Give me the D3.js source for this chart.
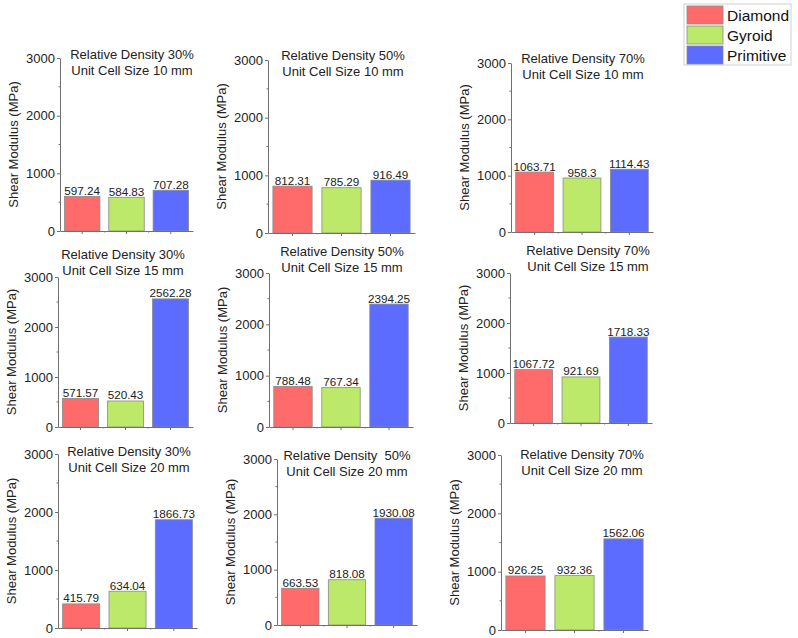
<!DOCTYPE html>
<html>
<head>
<meta charset="utf-8">
<script src="https://cdn.jsdelivr.net/npm/d3@7"></script>
<style>
  body { margin: 0; background: #fff; }
  svg { display: block; font-family: "Liberation Sans", Arial, sans-serif; }
</style>
</head>
<body>
<svg id="chart" width="798" height="638"></svg>
<script>
// data: rows = unit cell size, cols = relative density
var densityLabels = ["30%", "50%", "70%"];
var cellSizeLabels = ["10 mm", "15 mm", "20 mm"];
var structures = ["Diamond", "Gyroid", "Primitive"];
var diamondValues = [
  [597.24, 812.31, 1063.71],
  [571.57, 788.48, 1067.72],
  [415.79, 663.53, 926.25]
];
var gyroidValues = [
  [584.83, 785.29, 958.3],
  [520.43, 767.34, 921.69],
  [634.04, 818.08, 932.36]
];
var primitiveValues = [
  [707.28, 916.49, 1114.43],
  [2562.28, 2394.25, 1718.33],
  [1866.73, 1930.08, 1562.06]
];
var yTicks = [0, 1000, 2000, 3000];
var yMinorTicks = [500, 1500, 2500];
var yLabel = "Shear Modulus (MPa)";

var colors = ["#ff6b6b", "#bce96a", "#5b6cff"];

// panel placement (axis box + title centre)
var layout = [
  [ {x0: 60, x1: 193, yT: 58, yB: 231, tx: 132, ty: 54},
    {x0: 268, x1: 415, yT: 60, yB: 233, tx: 343, ty: 55},
    {x0: 511, x1: 653, yT: 63, yB: 232, tx: 583, ty: 58} ],
  [ {x0: 58, x1: 193, yT: 277, yB: 427, tx: 123, ty: 254},
    {x0: 269, x1: 413, yT: 273, yB: 427, tx: 342, ty: 251},
    {x0: 510, x1: 652, yT: 273, yB: 423, tx: 588, ty: 250} ],
  [ {x0: 58, x1: 197, yT: 454, yB: 628, tx: 129, ty: 451},
    {x0: 277, x1: 417, yT: 459, yB: 625, tx: 347, ty: 455},
    {x0: 501, x1: 648, yT: 455, yB: 630, tx: 582, ty: 454} ]
];

var svg = d3.select("#chart");
var axisColor = "#707070";

function drawPanel(r, c) {
  var L = layout[r][c];
  var values = [diamondValues[r][c], gyroidValues[r][c], primitiveValues[r][c]];
  var g = svg.append("g");

  var x = d3.scaleBand()
    .domain(structures)
    .range([L.x0, L.x1])
    .paddingInner(0.2)
    .paddingOuter(0.1);
  var y = d3.scaleLinear().domain([0, 3000]).range([L.yB, L.yT]);

  // bars
  g.selectAll("rect.bar")
    .data(values)
    .enter()
    .append("rect")
    .attr("class", "bar")
    .attr("x", function (d, i) { return x(structures[i]); })
    .attr("width", x.bandwidth())
    .attr("y", function (d) { return y(d); })
    .attr("height", function (d) { return y(0) - y(d); })
    .attr("fill", function (d, i) { return colors[i]; })
    .attr("stroke", "#8a8a8a")
    .attr("stroke-width", 0.8);

  // value labels
  g.selectAll("text.val")
    .data(values)
    .enter()
    .append("text")
    .attr("class", "val")
    .attr("x", function (d, i) { return x(structures[i]) + x.bandwidth() / 2; })
    .attr("y", function (d) { return y(d) - 1.5; })
    .attr("text-anchor", "middle")
    .attr("font-size", "11.7px")
    .attr("fill", "#222")
    .text(function (d) { return String(d); });

  // y axis
  var yAxis = d3.axisLeft(y).tickValues(yTicks).tickFormat(d3.format("d"))
    .tickSize(3).tickPadding(2).tickSizeOuter(0);
  var ya = g.append("g").attr("transform", "translate(" + L.x0 + ",0)").call(yAxis);
  ya.select(".domain").attr("stroke", axisColor);
  ya.selectAll(".tick line").attr("stroke", axisColor);
  ya.selectAll(".tick text").attr("font-size", "13px").attr("fill", "#222")
    .attr("font-family", "Liberation Sans, Arial, sans-serif");
  g.selectAll("line.yminor")
    .data(yMinorTicks)
    .enter()
    .append("line")
    .attr("class", "yminor")
    .attr("x1", L.x0 - 1.5).attr("x2", L.x0)
    .attr("y1", function (d) { return y(d); })
    .attr("y2", function (d) { return y(d); })
    .attr("stroke", axisColor);

  // x axis
  var xAxis = d3.axisBottom(x).tickSize(3).tickSizeOuter(0).tickFormat("");
  var xa = g.append("g").attr("transform", "translate(0," + L.yB + ")").call(xAxis);
  xa.select(".domain").attr("stroke", axisColor);
  xa.selectAll(".tick line").attr("stroke", axisColor);
  var edges = structures.slice(1).map(function (s) { return x(s) - x.step() * x.paddingInner() / 2; });
  g.selectAll("line.xminor")
    .data(edges)
    .enter()
    .append("line")
    .attr("class", "xminor")
    .attr("x1", function (d) { return d; })
    .attr("x2", function (d) { return d; })
    .attr("y1", L.yB).attr("y2", L.yB + 1.5)
    .attr("stroke", axisColor);

  // y label
  g.append("text")
    .attr("transform", "translate(" + (L.x0 - 42) + "," + ((L.yT + L.yB) / 2) + ") rotate(-90)")
    .attr("text-anchor", "middle")
    .attr("font-size", "13px")
    .attr("fill", "#222")
    .text(yLabel);

  // title
  var densityText = (r === 2 && c === 1) ? "Relative Density  " : "Relative Density ";
  var title = g.append("text")
    .attr("text-anchor", "middle")
    .attr("font-size", "13px")
    .attr("fill", "#222")
    .style("white-space", "pre");
  title.append("tspan").attr("x", L.tx).attr("y", L.ty + 4.5)
    .text(densityText + densityLabels[c]);
  title.append("tspan").attr("x", L.tx).attr("y", L.ty + 20.5)
    .text("Unit Cell Size " + cellSizeLabels[r]);
}

for (var r = 0; r < 3; r++) {
  for (var c = 0; c < 3; c++) {
    drawPanel(r, c);
  }
}

// legend
var legend = svg.append("g");
legend.append("rect")
  .attr("x", 684).attr("y", 4).attr("width", 107).attr("height", 61)
  .attr("fill", "#fff").attr("stroke", "#d0d0d0");
var legendY = d3.scaleBand().domain(structures).range([6, 64]).paddingInner(0.1);
legend.selectAll("rect.sw")
  .data(structures)
  .enter()
  .append("rect")
  .attr("class", "sw")
  .attr("x", 687).attr("width", 36)
  .attr("y", function (d) { return legendY(d); })
  .attr("height", legendY.bandwidth())
  .attr("fill", function (d, i) { return colors[i]; })
  .attr("stroke", "#8a8a8a").attr("stroke-width", 0.8);
legend.selectAll("text.lg")
  .data(structures)
  .enter()
  .append("text")
  .attr("class", "lg")
  .attr("x", 727)
  .attr("y", function (d) { return legendY(d) + legendY.bandwidth() / 2 + 5.5; })
  .attr("font-size", "15.5px")
  .attr("fill", "#111")
  .text(function (d) { return d; });
</script>
</body>
</html>
